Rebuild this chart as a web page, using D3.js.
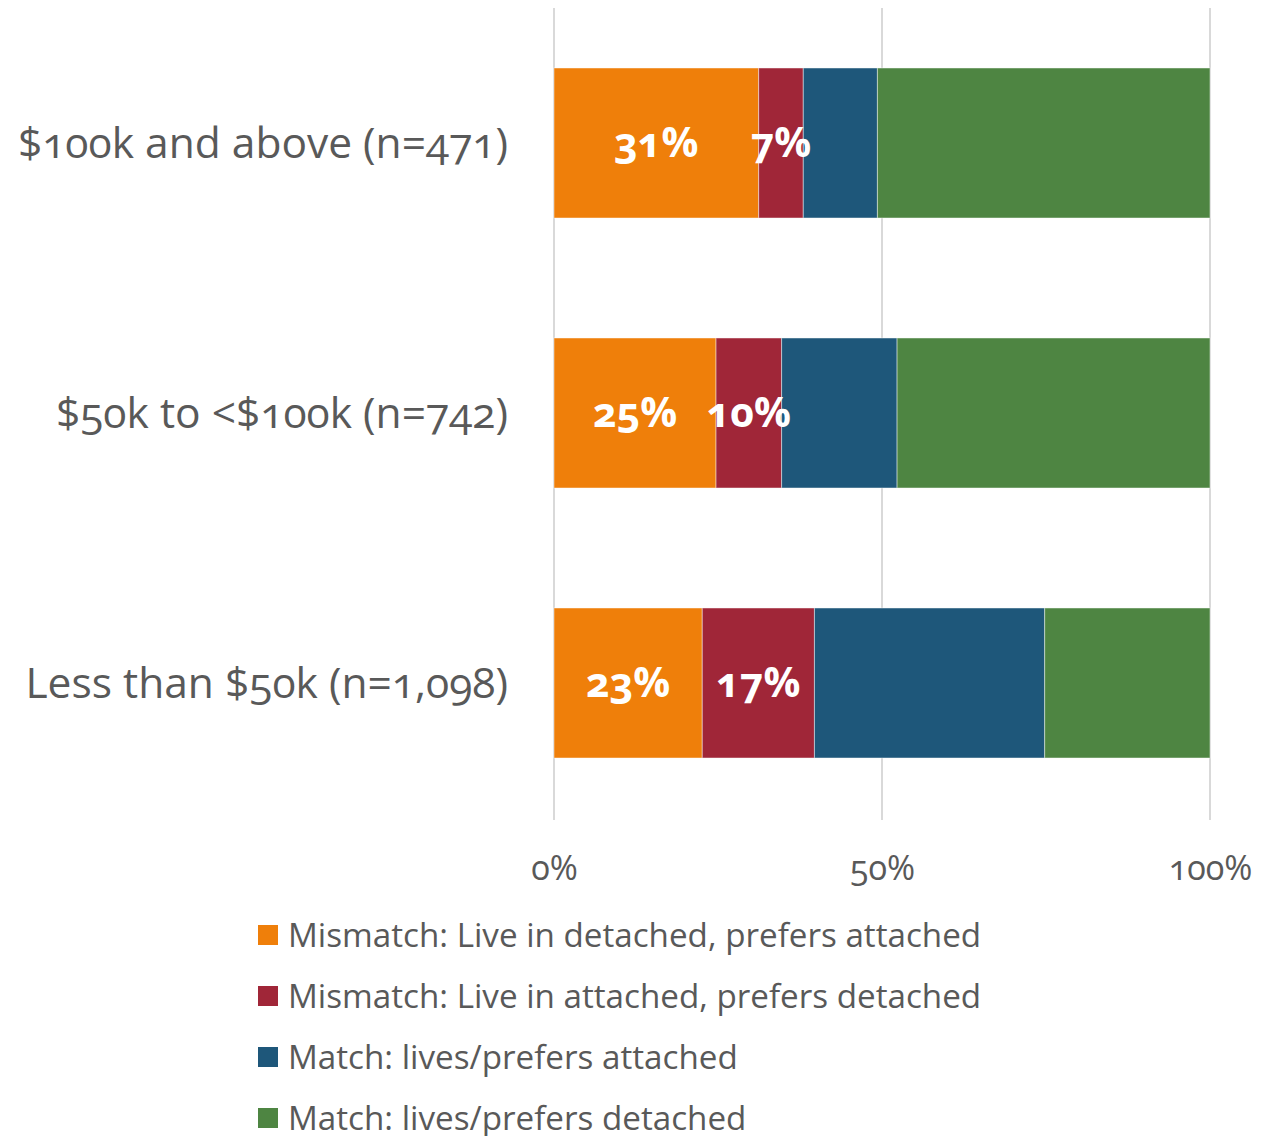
<!DOCTYPE html>
<html><head><meta charset="utf-8">
<script src="https://cdn.jsdelivr.net/npm/d3@7/dist/d3.min.js"></script>
<style>
body{margin:0;background:#fff;}
svg text{font-family:"Open Sans","Lato",sans-serif;font-variant-numeric:oldstyle-nums;font-feature-settings:"onum" 1;}
</style></head>
<body><svg id="c" width="1281" height="1136"></svg>
<script>
const categories = ["$100k and above (n=471)", "$50k to <$100k (n=742)", "Less than $50k (n=1,098)"];
const seriesNames = ["Mismatch: Live in detached, prefers attached", "Mismatch: Live in attached, prefers detached", "Match: lives/prefers attached", "Match: lives/prefers detached"];
const seriesColors = ["#EF7F0A", "#A02638", "#1E577A", "#4E8542"];
const mismatchDetached = [31.2, 24.7, 22.6];
const mismatchAttached = [6.8, 10.0, 17.1];
const matchAttached = [11.3, 17.6, 35.1];
const matchDetached = [50.7, 47.7, 25.2];
const labelMismatchDetached = ["31%", "25%", "23%"];
const labelMismatchAttached = ["7%", "10%", "17%"];
const tickValues = [0, 50, 100];
const tickLabels = ["0%", "50%", "100%"];

const svg = d3.select("#c");
const x = d3.scaleLinear().domain([0, 100]).range([554, 1210]);
const y = d3.scaleBand().domain(categories).range([8, 818]).paddingInner(0.4444).paddingOuter(0.2222);

// gridlines
svg.append("g").selectAll("line").data(tickValues).join("line")
  .attr("x1", d => x(d)).attr("x2", d => x(d))
  .attr("y1", 8).attr("y2", 820)
  .attr("stroke", "#d9d9d9").attr("stroke-width", 2);

const seriesData = [mismatchDetached, mismatchAttached, matchAttached, matchDetached];
const table = categories.map((c, i) => {
  const o = {cat: c};
  seriesNames.forEach((s, k) => o[s] = seriesData[k][i]);
  return o;
});
const stack = d3.stack().keys(seriesNames)(table);

const gBars = svg.append("g");
stack.forEach((layer, k) => {
  gBars.append("g").selectAll("rect").data(layer).join("rect")
    .attr("x", d => x(d[0])).attr("width", d => x(d[1]) - x(d[0]))
    .attr("y", d => y(d.data.cat)).attr("height", y.bandwidth())
    .attr("fill", seriesColors[k])
    .attr("stroke", "rgba(255,255,255,0.45)").attr("stroke-width", 1);
});

// value labels
const labelSets = [labelMismatchDetached, labelMismatchAttached];
labelSets.forEach((labels, k) => {
  svg.append("g").selectAll("text").data(stack[k]).join("text")
    .attr("x", d => x((d[0] + d[1]) / 2))
    .attr("y", d => y(d.data.cat) + y.bandwidth() / 2)
    .attr("dy", "0.35em")
    .attr("text-anchor", "middle")
    .attr("fill", "#fff").attr("font-weight", "bold").attr("font-size", 41)
    .text((d, i) => labels[i]);
});

// category labels
svg.append("g").selectAll("text").data(categories).join("text")
  .attr("x", 508).attr("y", d => y(d) + y.bandwidth() / 2)
  .attr("dy", "0.35em").attr("text-anchor", "end")
  .attr("fill", "#595959").attr("font-size", 42.5)
  .text(d => d);

// x axis
const xAxis = d3.axisBottom(x).tickValues(tickValues).tickFormat((d, i) => tickLabels[i]).tickSize(0).tickPadding(0);
const ax = svg.append("g").attr("transform", "translate(0,868)").call(xAxis);
ax.select(".domain").remove();
ax.selectAll("text").attr("fill", "#595959").attr("font-size", 34).attr("dy", "0.35em").attr("y", 0)
  .style("font-family", "'Open Sans',sans-serif");

// legend
const lg = svg.append("g").selectAll("g").data(seriesNames).join("g")
  .attr("transform", (d, i) => `translate(258,${935 + i * 61})`);
lg.append("rect").attr("x", 0).attr("y", -10).attr("width", 20).attr("height", 20)
  .attr("fill", (d, i) => seriesColors[i]);
lg.append("text").attr("x", 30).attr("y", 0).attr("dy", "0.35em")
  .attr("fill", "#595959").attr("font-size", 33.2).text(d => d);
</script></body></html>
